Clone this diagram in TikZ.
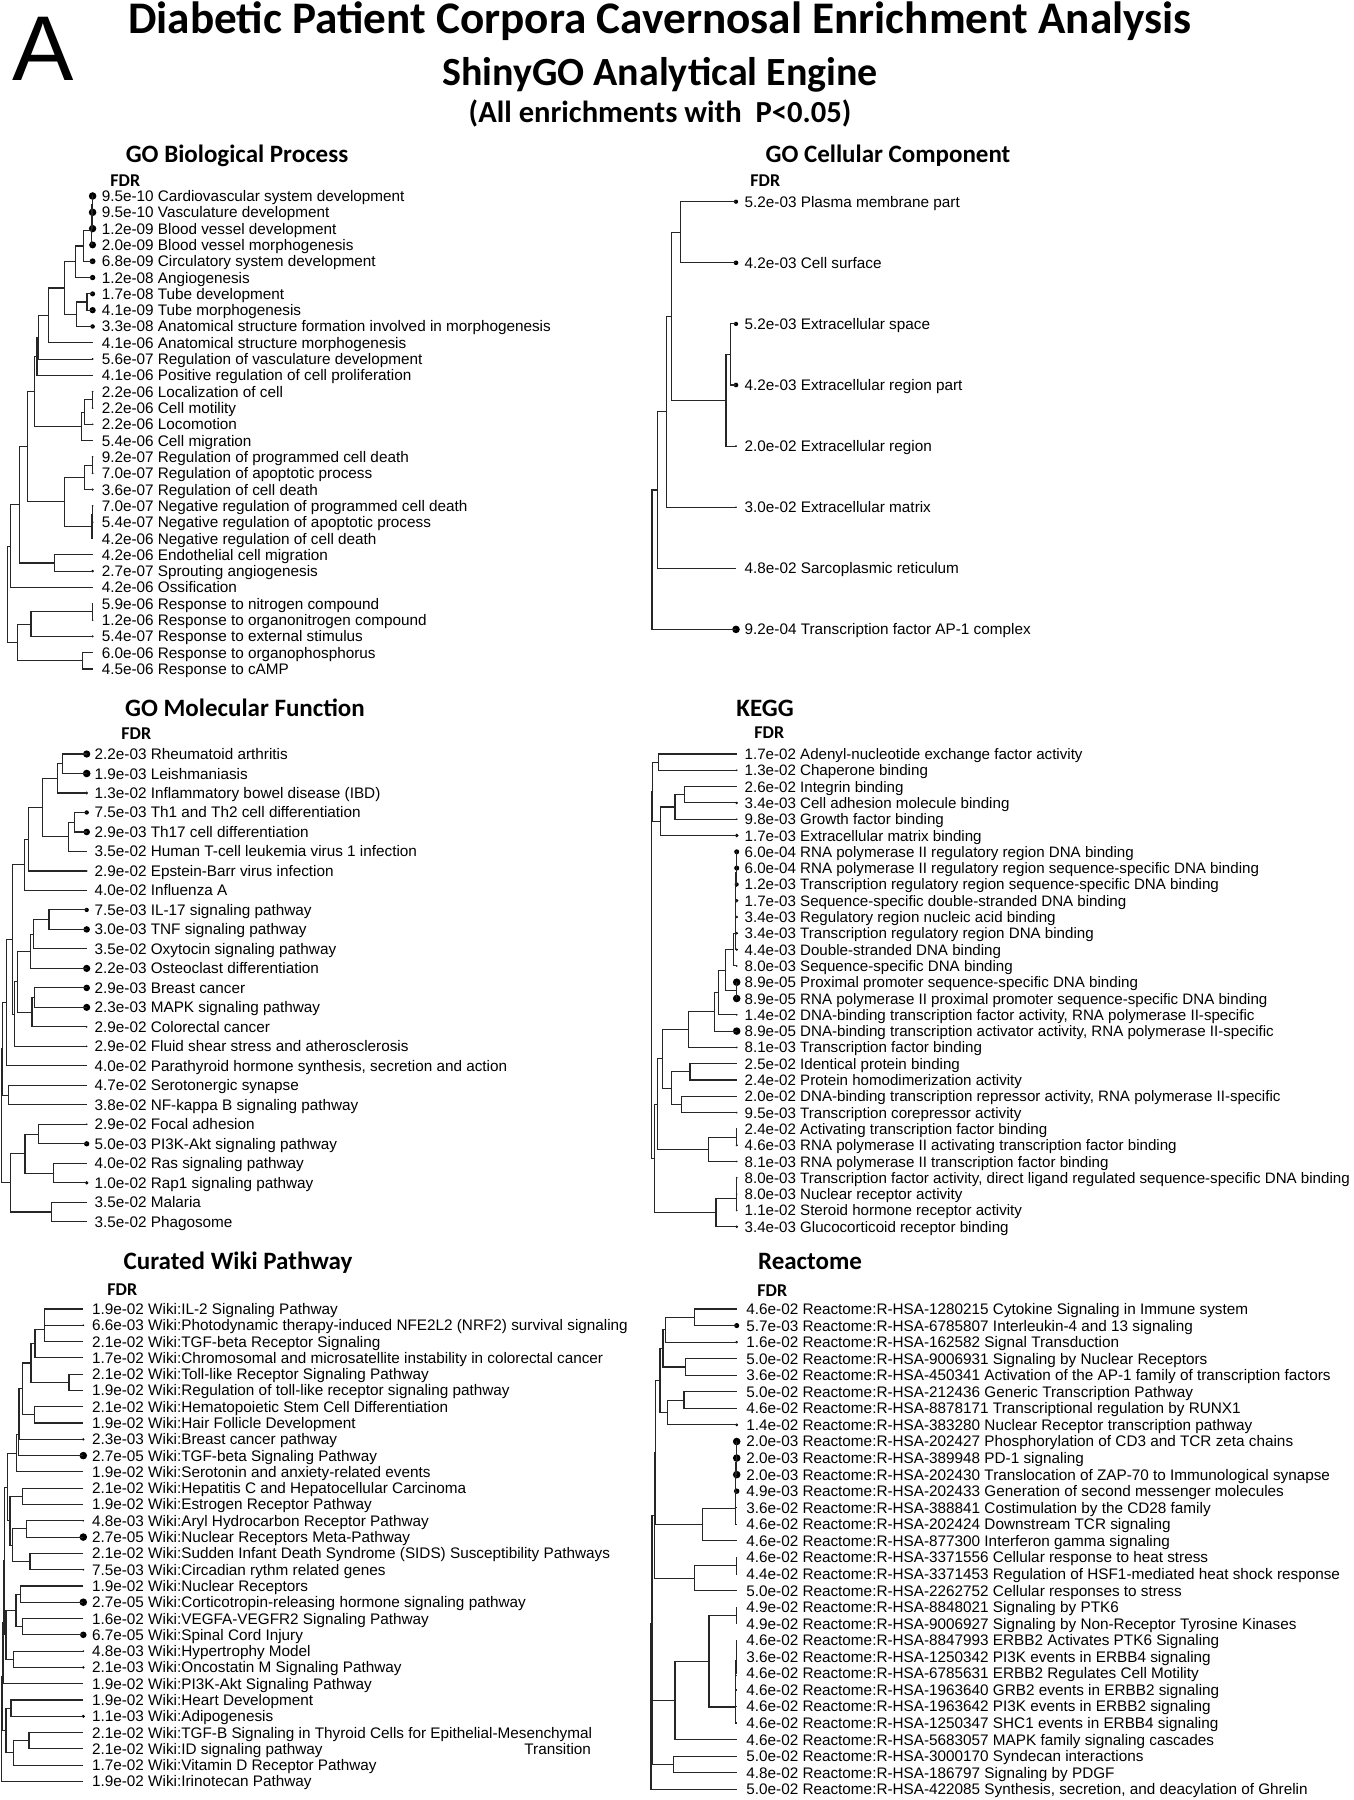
\documentclass[tikz,border=0pt]{standalone}
\usepackage{fontspec}
\setmainfont{Liberation Sans}
\newfontfamily\calib{Carlito}
\usetikzlibrary{calc}
\def\labsize{7.65}
\tikzset{
  br/.style={draw=black!85, line width=0.55pt},
  lab/.style={anchor=base west, inner sep=0pt, font=\fontsize{\labsize}{9}\selectfont},
  ptitle/.style={anchor=base, inner sep=0pt, font=\calib\bfseries\fontsize{12.5}{14}\selectfont},
  fdr/.style={anchor=base west, inner sep=0pt, font=\calib\bfseries\fontsize{9}{10}\selectfont},
  dotc/.style={fill=black}
}
\def\parsefdr#1e-#2\relax{\def\fm{#1}\def\fe{#2}}
\newcommand\lf[3]{%
  \pgfmathsetmacro\yy{\Yz+\Dy*(#1)}%
  \coordinate (\Pf#1) at (\Xd,\yy);
  \node[lab] (\Pf t#1) at (\Xt,\yy+5.5) {#2 #3};
  \parsefdr#2\relax
  \pgfmathsetmacro\LL{(1\fe-100)-ln(\fm)/ln(10)}%
  \pgfmathsetmacro\rr{3.8*(\LL-\Lmin)/(\Lmax-\Lmin)}%
  \pgfmathtruncatemacro\dd{\rr>0.4?1:0}%
  \pgfmathsetmacro\rr{max(\rr,0.9)}%
  \ifnum\dd=1 \fill[dotc] (\Pf#1) circle[radius=\rr];\fi
}
\newcommand\mg[4]{%
  \coordinate (tmpm) at ($(#3)!0.5!(#4)$);
  \coordinate (tmpx) at (#2,0);
  \coordinate (#1) at (tmpx |- tmpm);
  \draw[br] (#3) -| (#1) |- (#4);
}
\newcommand\panel[7]{\def\Pf{#1}\def\Yz{#2}\def\Dy{#3}\def\Xd{#4}\def\Xt{#5}\def\Lmin{#6}\def\Lmax{#7}}
\begin{document}
\begin{tikzpicture}[x=0.5pt,y=-0.5pt]
\fill[white] (0,0) rectangle (1354,1800);
\useasboundingbox (0,0) rectangle (1354,1800);

% ---------- headings ----------
\node[anchor=base west, inner sep=0pt, text height=34pt, text depth=0pt, font=\fontsize{46}{48}\selectfont] (bigA) at (12,80) {A};
\node[anchor=base, inner sep=0pt, font=\calib\bfseries\fontsize{22.6}{25}\selectfont] (t1) at (660,33.5) {Diabetic Patient Corpora Cavernosal Enrichment Analysis};
\node[anchor=base, inner sep=0pt, font=\calib\bfseries\fontsize{20}{22}\selectfont] (t2) at (660,85) {ShinyGO Analytical Engine};
\node[anchor=base, inner sep=0pt, font=\calib\bfseries\fontsize{15.3}{17}\selectfont] (t3) at (660,122.3) {(All enrichments with\ \ P<0.05)};

\node[ptitle] (h1) at (237,162) {GO Biological Process};
\node[ptitle] (h2) at (888,162) {GO Cellular Component};
\node[ptitle] (h3) at (245,716) {GO Molecular Function};
\node[ptitle] (h4) at (765,716) {KEGG};
\node[ptitle] (h5) at (238,1269) {Curated Wiki Pathway};
\node[ptitle] (h6) at (810,1269) {Reactome};

\node[fdr] (f1) at (110,186.7) {FDR};
\node[fdr] (f2) at (750,186.7) {FDR};
\node[fdr] (f3) at (121,739) {FDR};
\node[fdr] (f4) at (754,738) {FDR};
\node[fdr] (f5) at (107,1295.5) {FDR};
\node[fdr] (f6) at (757,1296.7) {FDR};

% ---------- GO Biological Process ----------
\panel{b}{196}{16.31}{92.6}{101.4}{5.22}{9.02}
\lf{0}{9.5e-10}{Cardiovascular system development}
\lf{1}{9.5e-10}{Vasculature development}
\lf{2}{1.2e-09}{Blood vessel development}
\lf{3}{2.0e-09}{Blood vessel morphogenesis}
\lf{4}{6.8e-09}{Circulatory system development}
\lf{5}{1.2e-08}{Angiogenesis}
\lf{6}{1.7e-08}{Tube development}
\lf{7}{4.1e-09}{Tube morphogenesis}
\lf{8}{3.3e-08}{Anatomical structure formation involved in morphogenesis}
\lf{9}{4.1e-06}{Anatomical structure morphogenesis}
\lf{10}{5.6e-07}{Regulation of vasculature development}
\lf{11}{4.1e-06}{Positive regulation of cell proliferation}
\lf{12}{2.2e-06}{Localization of cell}
\lf{13}{2.2e-06}{Cell motility}
\lf{14}{2.2e-06}{Locomotion}
\lf{15}{5.4e-06}{Cell migration}
\lf{16}{9.2e-07}{Regulation of programmed cell death}
\lf{17}{7.0e-07}{Regulation of apoptotic process}
\lf{18}{3.6e-07}{Regulation of cell death}
\lf{19}{7.0e-07}{Negative regulation of programmed cell death}
\lf{20}{5.4e-07}{Negative regulation of apoptotic process}
\lf{21}{4.2e-06}{Negative regulation of cell death}
\lf{22}{4.2e-06}{Endothelial cell migration}
\lf{23}{2.7e-07}{Sprouting angiogenesis}
\lf{24}{4.2e-06}{Ossification}
\lf{25}{5.9e-06}{Response to nitrogen compound}
\lf{26}{1.2e-06}{Response to organonitrogen compound}
\lf{27}{5.4e-07}{Response to external stimulus}
\lf{28}{6.0e-06}{Response to organophosphorus}
\lf{29}{4.5e-06}{Response to cAMP}
\mg{bn1}{92.3}{b0}{b1}
\mg{bn2}{92.0}{bn1}{b2}
\mg{bn3}{91.7}{bn2}{b3}
\mg{bn4}{83.1}{bn3}{b4}
\mg{bn5}{75.5}{bn4}{b5}
\mg{bn6}{87}{b6}{b7}
\mg{bn7}{76.7}{bn6}{b8}
\mg{bn8}{64.8}{bn5}{bn7}
\mg{bn9}{48.5}{bn8}{b9}
\mg{bn10}{38.6}{bn9}{b10}
\mg{bn11}{37}{bn10}{b11}
\mg{bn12}{92.3}{b12}{b13}
\mg{bn13}{84.3}{bn12}{b14}
\mg{bn14}{81.1}{bn13}{b15}
\mg{bn15}{34.6}{bn11}{bn14}
\mg{bn16}{92.3}{b16}{b17}
\mg{bn17}{84.7}{bn16}{b18}
\mg{bn18}{92.3}{b19}{b20}
\mg{bn19}{92.0}{bn18}{b21}
\mg{bn20}{64.4}{bn17}{bn19}
\mg{bn21}{27.8}{bn15}{bn20}
\mg{bn22}{54.5}{b22}{b23}
\mg{bn23}{19.9}{bn21}{bn22}
\mg{bn24}{10.3}{bn23}{b24}
\mg{bn25}{92.3}{b25}{b26}
\mg{bn26}{31}{bn25}{b27}
\mg{bn27}{82.7}{b28}{b29}
\mg{bn28}{17.9}{bn26}{bn27}
\mg{bn29}{7.6}{bn24}{bn28}

% ---------- GO Cellular Component ----------
\panel{c}{201.7}{61.1}{736}{744.3}{1.32}{3.04}
\lf{0}{5.2e-03}{Plasma membrane part}
\lf{1}{4.2e-03}{Cell surface}
\lf{2}{5.2e-03}{Extracellular space}
\lf{3}{4.2e-03}{Extracellular region part}
\lf{4}{2.0e-02}{Extracellular region}
\lf{5}{3.0e-02}{Extracellular matrix}
\lf{6}{4.8e-02}{Sarcoplasmic reticulum}
\lf{7}{9.2e-04}{Transcription factor AP-1 complex}
\mg{cn1}{680.3}{c0}{c1}
\mg{cn2}{730.7}{c2}{c3}
\mg{cn3}{726}{cn2}{c4}
\mg{cn4}{671.3}{cn1}{cn3}
\mg{cn5}{666.7}{cn4}{c5}
\mg{cn6}{657.3}{cn5}{c6}
\mg{cn7}{652}{cn6}{c7}

% ---------- GO Molecular Function ----------
\panel{m}{754}{19.49}{86.7}{94.3}{1.33}{2.72}
\lf{0}{2.2e-03}{Rheumatoid arthritis}
\lf{1}{1.9e-03}{Leishmaniasis}
\lf{2}{1.3e-02}{Inflammatory bowel disease (IBD)}
\lf{3}{7.5e-03}{Th1 and Th2 cell differentiation}
\lf{4}{2.9e-03}{Th17 cell differentiation}
\lf{5}{3.5e-02}{Human T-cell leukemia virus 1 infection}
\lf{6}{2.9e-02}{Epstein-Barr virus infection}
\lf{7}{4.0e-02}{Influenza A}
\lf{8}{7.5e-03}{IL-17 signaling pathway}
\lf{9}{3.0e-03}{TNF signaling pathway}
\lf{10}{3.5e-02}{Oxytocin signaling pathway}
\lf{11}{2.2e-03}{Osteoclast differentiation}
\lf{12}{2.9e-03}{Breast cancer}
\lf{13}{2.3e-03}{MAPK signaling pathway}
\lf{14}{2.9e-02}{Colorectal cancer}
\lf{15}{2.9e-02}{Fluid shear stress and atherosclerosis}
\lf{16}{4.0e-02}{Parathyroid hormone synthesis, secretion and action}
\lf{17}{4.7e-02}{Serotonergic synapse}
\lf{18}{3.8e-02}{NF-kappa B signaling pathway}
\lf{19}{2.9e-02}{Focal adhesion}
\lf{20}{5.0e-03}{PI3K-Akt signaling pathway}
\lf{21}{4.0e-02}{Ras signaling pathway}
\lf{22}{1.0e-02}{Rap1 signaling pathway}
\lf{23}{3.5e-02}{Malaria}
\lf{24}{3.5e-02}{Phagosome}
\mg{mn1}{62.9}{m0}{m1}
\mg{mn2}{57.7}{mn1}{m2}
\mg{mn3}{74.4}{m3}{m4}
\mg{mn4}{68.1}{mn3}{m5}
\mg{mn5}{42.4}{mn2}{mn4}
\mg{mn6}{28.9}{mn5}{m6}
\mg{mn7}{24.3}{mn6}{m7}
\mg{mn8}{49}{m8}{m9}
\mg{mn9}{33.7}{mn8}{m10}
\mg{mn10}{30.6}{mn9}{m11}
\mg{mn11}{34.7}{m12}{m13}
\mg{mn12}{32}{mn11}{m14}
\mg{mn13}{17.4}{mn10}{mn12}
\mg{mn14}{14.6}{mn13}{m15}
\mg{mn15}{12.5}{mn7}{mn14}
\mg{mn16}{6.3}{mn15}{m16}
\mg{mn17}{8.7}{m17}{m18}
\mg{mn18}{2.8}{mn16}{mn17}
\mg{mn19}{38.3}{m19}{m20}
\mg{mn20}{53.9}{m21}{m22}
\mg{mn21}{25}{mn19}{mn20}
\mg{mn22}{51.4}{m23}{m24}
\mg{mn23}{10.4}{mn21}{mn22}
\mg{mn24}{1.4}{mn18}{mn23}

% ---------- KEGG ----------
\def\labsize{7.56}
\panel{k}{754}{16.3}{736.7}{744.3}{1.585}{4.05}
\lf{0}{1.7e-02}{Adenyl-nucleotide exchange factor activity}
\lf{1}{1.3e-02}{Chaperone binding}
\lf{2}{2.6e-02}{Integrin binding}
\lf{3}{3.4e-03}{Cell adhesion molecule binding}
\lf{4}{9.8e-03}{Growth factor binding}
\lf{5}{1.7e-03}{Extracellular matrix binding}
\lf{6}{6.0e-04}{RNA polymerase II regulatory region DNA binding}
\lf{7}{6.0e-04}{RNA polymerase II regulatory region sequence-specific DNA binding}
\lf{8}{1.2e-03}{Transcription regulatory region sequence-specific DNA binding}
\lf{9}{1.7e-03}{Sequence-specific double-stranded DNA binding}
\lf{10}{3.4e-03}{Regulatory region nucleic acid binding}
\lf{11}{3.4e-03}{Transcription regulatory region DNA binding}
\lf{12}{4.4e-03}{Double-stranded DNA binding}
\lf{13}{8.0e-03}{Sequence-specific DNA binding}
\lf{14}{8.9e-05}{Proximal promoter sequence-specific DNA binding}
\lf{15}{8.9e-05}{RNA polymerase II proximal promoter sequence-specific DNA binding}
\lf{16}{1.4e-02}{DNA-binding transcription factor activity, RNA polymerase II-specific}
\lf{17}{8.9e-05}{DNA-binding transcription activator activity, RNA polymerase II-specific}
\lf{18}{8.1e-03}{Transcription factor binding}
\lf{19}{2.5e-02}{Identical protein binding}
\lf{20}{2.4e-02}{Protein homodimerization activity}
\lf{21}{2.0e-02}{DNA-binding transcription repressor activity, RNA polymerase II-specific}
\lf{22}{9.5e-03}{Transcription corepressor activity}
\lf{23}{2.4e-02}{Activating transcription factor binding}
\lf{24}{4.6e-03}{RNA polymerase II activating transcription factor binding}
\lf{25}{8.1e-03}{RNA polymerase II transcription factor binding}
\lf{26}{8.0e-03}{Transcription factor activity, direct ligand regulated sequence-specific DNA binding}
\lf{27}{8.0e-03}{Nuclear receptor activity}
\lf{28}{1.1e-02}{Steroid hormone receptor activity}
\lf{29}{3.4e-03}{Glucocorticoid receptor binding}
\mg{kn1}{658.3}{k0}{k1}
\mg{kn2}{684.3}{k2}{k3}
\mg{kn3}{675}{kn2}{k4}
\mg{kn4}{660.7}{kn3}{k5}
\mg{kn5}{652.7}{kn1}{kn4}
\mg{kn6}{736.3}{k6}{k7}
\mg{kn7}{736.1}{kn6}{k8}
\mg{kn8}{735.9}{kn7}{k9}
\mg{kn9}{735.7}{kn8}{k10}
\mg{kn10}{735.5}{kn9}{k11}
\mg{kn11}{735.3}{kn10}{k12}
\mg{kn12}{733.3}{kn11}{k13}
\mg{kn13}{736.3}{k14}{k15}
\mg{kn14}{725.7}{kn12}{kn13}
\mg{kn15}{718.3}{kn14}{k16}
\mg{kn16}{714.3}{kn15}{k17}
\mg{kn17}{688.3}{kn16}{k18}
\mg{kn18}{690}{k19}{k20}
\mg{kn19}{681.7}{k21}{k22}
\mg{kn20}{671.7}{kn18}{kn19}
\mg{kn21}{662.7}{kn17}{kn20}
\mg{kn22}{736.3}{k23}{k24}
\mg{kn23}{708.3}{kn22}{k25}
\mg{kn24}{657.7}{kn21}{kn23}
\mg{kn25}{736.3}{k26}{k27}
\mg{kn26}{736.1}{kn25}{k28}
\mg{kn27}{716}{kn26}{k29}
\mg{kn28}{654.7}{kn24}{kn27}
\mg{kn29}{651.7}{kn5}{kn28}
\def\labsize{7.65}

% ---------- Curated Wiki Pathway ----------
\panel{w}{1309}{16.29}{83.3}{91.7}{1.68}{4.57}
\lf{0}{1.9e-02}{Wiki:IL-2 Signaling Pathway}
\lf{1}{6.6e-03}{Wiki:Photodynamic therapy-induced NFE2L2 (NRF2) survival signaling}
\lf{2}{2.1e-02}{Wiki:TGF-beta Receptor Signaling}
\lf{3}{1.7e-02}{Wiki:Chromosomal and microsatellite instability in colorectal cancer}
\lf{4}{2.1e-02}{Wiki:Toll-like Receptor Signaling Pathway}
\lf{5}{1.9e-02}{Wiki:Regulation of toll-like receptor signaling pathway}
\lf{6}{2.1e-02}{Wiki:Hematopoietic Stem Cell Differentiation}
\lf{7}{1.9e-02}{Wiki:Hair Follicle Development}
\lf{8}{2.3e-03}{Wiki:Breast cancer pathway}
\lf{9}{2.7e-05}{Wiki:TGF-beta Signaling Pathway}
\lf{10}{1.9e-02}{Wiki:Serotonin and anxiety-related events}
\lf{11}{2.1e-02}{Wiki:Hepatitis C and Hepatocellular Carcinoma}
\lf{12}{1.9e-02}{Wiki:Estrogen Receptor Pathway}
\lf{13}{4.8e-03}{Wiki:Aryl Hydrocarbon Receptor Pathway}
\lf{14}{2.7e-05}{Wiki:Nuclear Receptors Meta-Pathway}
\lf{15}{2.1e-02}{Wiki:Sudden Infant Death Syndrome (SIDS) Susceptibility Pathways}
\lf{16}{7.5e-03}{Wiki:Circadian rythm related genes}
\lf{17}{1.9e-02}{Wiki:Nuclear Receptors}
\lf{18}{2.7e-05}{Wiki:Corticotropin-releasing hormone signaling pathway}
\lf{19}{1.6e-02}{Wiki:VEGFA-VEGFR2 Signaling Pathway}
\lf{20}{6.7e-05}{Wiki:Spinal Cord Injury}
\lf{21}{4.8e-03}{Wiki:Hypertrophy Model}
\lf{22}{2.1e-03}{Wiki:Oncostatin M Signaling Pathway}
\lf{23}{1.9e-02}{Wiki:PI3K-Akt Signaling Pathway}
\lf{24}{1.9e-02}{Wiki:Heart Development}
\lf{25}{1.1e-03}{Wiki:Adipogenesis}
\lf{26}{2.1e-02}{Wiki:TGF-B Signaling in Thyroid Cells for Epithelial-Mesenchymal}
\lf{27}{2.1e-02}{Wiki:ID signaling pathway}
\lf{28}{1.7e-02}{Wiki:Vitamin D Receptor Pathway}
\lf{29}{1.9e-02}{Wiki:Irinotecan Pathway}
\node[lab] (wtrans) at (524,1754.3) {Transition};
\mg{wn1}{44.3}{w0}{w1}
\mg{wn2}{44.3}{wn1}{w2}
\mg{wn3}{35}{wn2}{w3}
\mg{wn4}{69}{w4}{w5}
\mg{wn5}{31}{wn3}{wn4}
\mg{wn6}{34.3}{w6}{w7}
\mg{wn7}{22.3}{wn5}{wn6}
\mg{wn8}{19}{wn7}{w8}
\mg{wn9}{18.3}{wn8}{w9}
\mg{wn10}{16.7}{wn9}{w10}
\mg{wn11}{22.3}{w11}{w12}
\mg{wn12}{26.7}{w13}{w14}
\mg{wn13}{30}{w15}{w16}
\mg{wn14}{12.3}{wn12}{wn13}
\mg{wn15}{10}{wn11}{wn14}
\mg{wn16}{7.3}{wn10}{wn15}
\mg{wn17}{20.7}{w17}{w18}
\mg{wn18}{22.3}{w19}{w20}
\mg{wn19}{16}{wn17}{wn18}
\mg{wn20}{13.3}{w21}{w22}
\mg{wn21}{6}{wn19}{wn20}
\mg{wn22}{4.7}{wn16}{wn21}
\mg{wn23}{3.3}{wn22}{w23}
\mg{wn24}{11}{w24}{w25}
\mg{wn25}{29}{w26}{w27}
\mg{wn26}{13.3}{wn25}{w28}
\mg{wn27}{6}{wn24}{wn26}
\mg{wn28}{2.3}{wn23}{wn27}
\mg{wn29}{1.7}{wn28}{w29}

% ---------- Reactome ----------
\panel{r}{1309}{16.56}{736.7}{746}{1.30}{2.70}
\lf{0}{4.6e-02}{Reactome:R-HSA-1280215 Cytokine Signaling in Immune system}
\lf{1}{5.7e-03}{Reactome:R-HSA-6785807 Interleukin-4 and 13 signaling}
\lf{2}{1.6e-02}{Reactome:R-HSA-162582 Signal Transduction}
\lf{3}{5.0e-02}{Reactome:R-HSA-9006931 Signaling by Nuclear Receptors}
\lf{4}{3.6e-02}{Reactome:R-HSA-450341 Activation of the AP-1 family of transcription factors}
\lf{5}{5.0e-02}{Reactome:R-HSA-212436 Generic Transcription Pathway}
\lf{6}{4.6e-02}{Reactome:R-HSA-8878171 Transcriptional regulation by RUNX1}
\lf{7}{1.4e-02}{Reactome:R-HSA-383280 Nuclear Receptor transcription pathway}
\lf{8}{2.0e-03}{Reactome:R-HSA-202427 Phosphorylation of CD3 and TCR zeta chains}
\lf{9}{2.0e-03}{Reactome:R-HSA-389948 PD-1 signaling}
\lf{10}{2.0e-03}{Reactome:R-HSA-202430 Translocation of ZAP-70 to Immunological synapse}
\lf{11}{4.9e-03}{Reactome:R-HSA-202433 Generation of second messenger molecules}
\lf{12}{3.6e-02}{Reactome:R-HSA-388841 Costimulation by the CD28 family}
\lf{13}{4.6e-02}{Reactome:R-HSA-202424 Downstream TCR signaling}
\lf{14}{4.6e-02}{Reactome:R-HSA-877300 Interferon gamma signaling}
\lf{15}{4.6e-02}{Reactome:R-HSA-3371556 Cellular response to heat stress}
\lf{16}{4.4e-02}{Reactome:R-HSA-3371453 Regulation of HSF1-mediated heat shock response}
\lf{17}{5.0e-02}{Reactome:R-HSA-2262752 Cellular responses to stress}
\lf{18}{4.9e-02}{Reactome:R-HSA-8848021 Signaling by PTK6}
\lf{19}{4.9e-02}{Reactome:R-HSA-9006927 Signaling by Non-Receptor Tyrosine Kinases}
\lf{20}{4.6e-02}{Reactome:R-HSA-8847993 ERBB2 Activates PTK6 Signaling}
\lf{21}{3.6e-02}{Reactome:R-HSA-1250342 PI3K events in ERBB4 signaling}
\lf{22}{4.6e-02}{Reactome:R-HSA-6785631 ERBB2 Regulates Cell Motility}
\lf{23}{4.6e-02}{Reactome:R-HSA-1963640 GRB2 events in ERBB2 signaling}
\lf{24}{4.6e-02}{Reactome:R-HSA-1963642 PI3K events in ERBB2 signaling}
\lf{25}{4.6e-02}{Reactome:R-HSA-1250347 SHC1 events in ERBB4 signaling}
\lf{26}{4.6e-02}{Reactome:R-HSA-5683057 MAPK family signaling cascades}
\lf{27}{5.0e-02}{Reactome:R-HSA-3000170 Syndecan interactions}
\lf{28}{4.8e-02}{Reactome:R-HSA-186797 Signaling by PDGF}
\lf{29}{5.0e-02}{Reactome:R-HSA-422085 Synthesis, secretion, and deacylation of Ghrelin}
\mg{rn1}{694.3}{r0}{r1}
\mg{rn2}{665.7}{rn1}{r2}
\mg{rn3}{685.7}{r3}{r4}
\mg{rn4}{663}{rn2}{rn3}
\mg{rn5}{684}{r5}{r6}
\mg{rn6}{667.3}{rn5}{r7}
\mg{rn7}{660}{rn4}{rn6}
\mg{rn8}{736.3}{r8}{r9}
\mg{rn9}{736.1}{rn8}{r10}
\mg{rn10}{735.9}{rn9}{r11}
\mg{rn11}{735.7}{rn10}{r12}
\mg{rn12}{735.5}{rn11}{r13}
\mg{rn13}{702.3}{rn12}{r14}
\mg{rn14}{736.3}{r15}{r16}
\mg{rn15}{694.3}{rn14}{r17}
\mg{rn16}{655.7}{rn7}{rn13}
\mg{rn17}{654.3}{rn16}{rn15}
\mg{rn18}{736.3}{r18}{r19}
\mg{rn19}{736.3}{r20}{r21}
\mg{rn20}{736.1}{rn19}{r22}
\mg{rn21}{735.9}{rn20}{r23}
\mg{rn22}{735.7}{rn21}{r24}
\mg{rn23}{735.5}{rn22}{r25}
\mg{rn24}{709}{rn18}{rn23}
\mg{rn25}{675}{rn24}{r26}
\mg{rn26}{673.3}{r27}{r28}
\mg{rn27}{652.7}{rn25}{rn26}
\mg{rn28}{652}{rn17}{rn27}
\mg{rn29}{651}{rn28}{r29}
\end{tikzpicture}
\end{document}
